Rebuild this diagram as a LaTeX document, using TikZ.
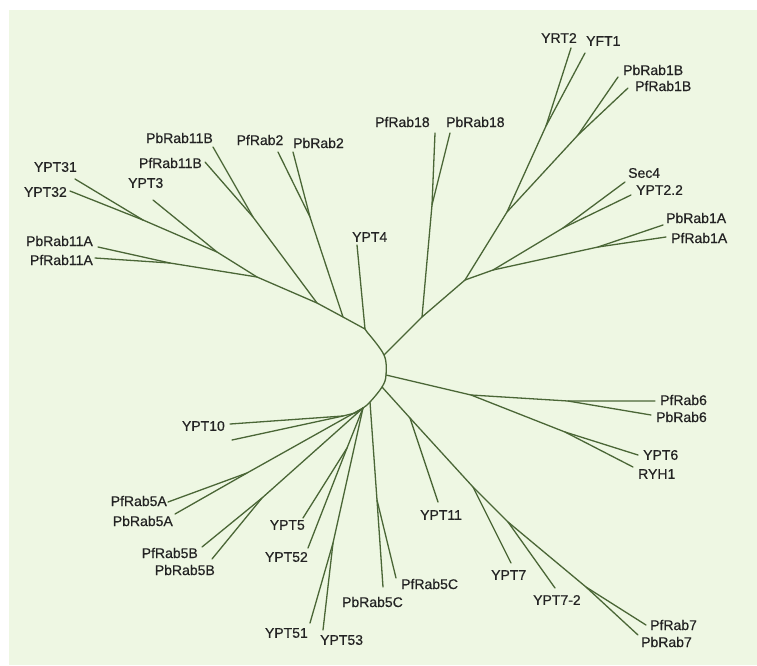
\documentclass[tikz,border=0pt]{standalone}
\usepackage{fontspec}
\setmainfont{Liberation Sans}
\newfontfamily\labfont{Liberation Sans}[FakeBold=0.5]
\definecolor{bgc}{RGB}{238,247,227}
\definecolor{brc}{RGB}{74,102,54}
\definecolor{txc}{RGB}{35,35,35}
\begin{document}
\begin{tikzpicture}[x=1pt,y=-1pt,
  br/.style={draw=brc,line width=1.3pt,line cap=round,line join=round},
  lab/.style={font=\labfont\fontsize{14}{14}\selectfont,text=txc,inner sep=0pt}]
\useasboundingbox (0,0) rectangle (757,665);
\fill[white] (0,0) rectangle (757,665);
\fill[bgc] (9,10) rectangle (757,665);

% root curve
\coordinate (c0) at (367,332);
\coordinate (c1) at (384,355);
\coordinate (c2) at (386,375);
\coordinate (c3) at (382,387);
\coordinate (c4) at (370,402);
\coordinate (c5) at (363,408);
\coordinate (c6) at (355,413);
\draw[br] plot[smooth,tension=0.6] coordinates {(c0) (c1) (c2) (c3) (c4) (c5) (c6)};

% ---- upper left group
\coordinate (nD) at (365,329);
\coordinate (nC) at (343,317);
\coordinate (nB) at (317,303);
\coordinate (nA) at (257,277);
\coordinate (n3) at (217,252);
\coordinate (n31) at (143,220);
\coordinate (n11A) at (170,263);
\coordinate (n11B) at (253,217);
\coordinate (n2) at (310,217);
\coordinate (eYPT31) at (75,179);
\coordinate (eYPT32) at (70,191);
\coordinate (eYPT3) at (153,200);
\coordinate (ePbRab11A) at (98,247);
\coordinate (ePfRab11A) at (95,258);
\coordinate (ePbRab11B) at (213,147);
\coordinate (ePfRab11B) at (205,162);
\coordinate (ePfRab2) at (278,152);
\coordinate (ePbRab2) at (293,152);
\coordinate (eYPT4) at (357,245);
\draw[br] (c0) -- (nD) -- (nC) -- (nB) -- (nA) -- (n3) -- (n31);
\draw[br] (n31) -- (eYPT31);
\draw[br] (n31) -- (eYPT32);
\draw[br] (n3) -- (eYPT3);
\draw[br] (nA) -- (n11A) -- (ePbRab11A);
\draw[br] (n11A) -- (ePfRab11A);
\draw[br] (nB) -- (n11B) -- (ePbRab11B);
\draw[br] (n11B) -- (ePfRab11B);
\draw[br] (nC) -- (n2) -- (ePfRab2);
\draw[br] (n2) -- (ePbRab2);
\draw[br] (nD) -- (eYPT4);

% ---- upper right group
\coordinate (nR1) at (422,317);
\coordinate (nR2) at (465,280);
\coordinate (n18) at (432,205);
\coordinate (nU) at (507,212);
\coordinate (nYR) at (546,126);
\coordinate (n1B) at (578,135);
\coordinate (nS) at (493,270);
\coordinate (nSec) at (563,228);
\coordinate (n1A) at (598,247);
\coordinate (ePfRab18) at (435,133);
\coordinate (ePbRab18) at (450,133);
\coordinate (eYRT2) at (571,48);
\coordinate (eYFT1) at (585,53);
\coordinate (ePbRab1B) at (618,77);
\coordinate (ePfRab1B) at (628,88);
\coordinate (eSec4) at (625,182);
\coordinate (eYPT22) at (631,195);
\coordinate (ePbRab1A) at (663,225);
\coordinate (ePfRab1A) at (666,237);
\draw[br] (c1) -- (nR1) -- (nR2) -- (nU) -- (nYR) -- (eYRT2);
\draw[br] (nYR) -- (eYFT1);
\draw[br] (nU) -- (n1B) -- (ePbRab1B);
\draw[br] (n1B) -- (ePfRab1B);
\draw[br] (nR1) -- (n18) -- (ePfRab18);
\draw[br] (n18) -- (ePbRab18);
\draw[br] (nR2) -- (nS) -- (nSec) -- (eSec4);
\draw[br] (nSec) -- (eYPT22);
\draw[br] (nS) -- (n1A) -- (ePbRab1A);
\draw[br] (n1A) -- (ePfRab1A);

% ---- right group (Rab6)
\coordinate (n6) at (471,395);
\coordinate (nRab6) at (568,401);
\coordinate (nY6) at (565,432);
\coordinate (ePfRab6) at (655,401);
\coordinate (ePbRab6) at (651,415);
\coordinate (eYPT6) at (638,455);
\coordinate (eRYH1) at (633,467);
\draw[br] (c2) -- (n6) -- (nRab6) -- (ePfRab6);
\draw[br] (nRab6) -- (ePbRab6);
\draw[br] (n6) -- (nY6) -- (eYPT6);
\draw[br] (nY6) -- (eRYH1);

% ---- lower right group (Rab7)
\coordinate (nY11) at (410,418);
\coordinate (nY7) at (473,487);
\coordinate (nY72) at (508,522);
\coordinate (n7) at (586,587);
\coordinate (eYPT11) at (438,502);
\coordinate (eYPT7) at (511,563);
\coordinate (eYPT72) at (555,588);
\coordinate (ePfRab7) at (646,625);
\coordinate (ePbRab7) at (638,635);
\draw[br] (c3) -- (nY11) -- (nY7) -- (nY72) -- (n7) -- (ePfRab7);
\draw[br] (n7) -- (ePbRab7);
\draw[br] (nY11) -- (eYPT11);
\draw[br] (nY7) -- (eYPT7);
\draw[br] (nY72) -- (eYPT72);

% ---- lower left group (Rab5, YPT10)
\coordinate (n5C) at (377,500);
\coordinate (n5A) at (247,473);
\coordinate (n5B) at (262,498);
\coordinate (n5) at (347,448);
\coordinate (n51) at (333,543);
\coordinate (n10) at (343,416);
\coordinate (ePbRab5C) at (383,587);
\coordinate (ePfRab5C) at (396,578);
\coordinate (ePfRab5A) at (168,502);
\coordinate (ePbRab5A) at (175,514);
\coordinate (ePfRab5B) at (202,547);
\coordinate (ePbRab5B) at (212,559);
\coordinate (eYPT5) at (303,518);
\coordinate (eYPT52) at (308,548);
\coordinate (eYPT51) at (310,623);
\coordinate (eYPT53) at (323,630);
\coordinate (eYPT10) at (230,424);
\coordinate (eX10) at (232,440);
\draw[br] (c4) -- (n5C) -- (ePbRab5C);
\draw[br] (n5C) -- (ePfRab5C);
\draw[br] (c5) -- (n5A) -- (ePfRab5A);
\draw[br] (n5A) -- (ePbRab5A);
\draw[br] (c5) -- (n5B) -- (ePfRab5B);
\draw[br] (n5B) -- (ePbRab5B);
\draw[br] (c5) -- (n5) -- (eYPT5);
\draw[br] (n5) -- (eYPT52);
\draw[br] (c5) -- (n51) -- (eYPT51);
\draw[br] (n51) -- (eYPT53);
\draw[br] (c6) -- (n10) -- (eYPT10);
\draw[br] (n10) -- (eX10);

% ---- labels
\node[lab,anchor=east] (lPbRab11B) at (213,138) {PbRab11B};
\node[lab,anchor=east] (lPfRab11B) at (202,163) {PfRab11B};
\node[lab,anchor=west] (lYPT3) at (128,183) {YPT3};
\node[lab,anchor=east] (lYPT31) at (77,167) {YPT31};
\node[lab,anchor=east] (lYPT32) at (67,192) {YPT32};
\node[lab,anchor=east] (lPbRab11A) at (93,241) {PbRab11A};
\node[lab,anchor=east] (lPfRab11A) at (93,260) {PfRab11A};
\node[lab] (lPfRab2) at (260,140) {PfRab2};
\node[lab,anchor=west] (lPbRab2) at (293,143) {PbRab2};
\node[lab,anchor=west] (lYPT4) at (352,237) {YPT4};
\node[lab,anchor=west] (lPfRab18) at (375,122) {PfRab18};
\node[lab,anchor=west] (lPbRab18) at (446,122) {PbRab18};
\node[lab,anchor=west] (lYRT2) at (541,38) {YRT2};
\node[lab,anchor=west] (lYFT1) at (586,41) {YFT1};
\node[lab,anchor=west] (lPbRab1B) at (623,70) {PbRab1B};
\node[lab,anchor=west] (lPfRab1B) at (635,86) {PfRab1B};
\node[lab,anchor=west] (lSec4) at (628,173) {Sec4};
\node[lab,anchor=west] (lYPT22) at (636,190) {YPT2.2};
\node[lab,anchor=west] (lPbRab1A) at (666,218) {PbRab1A};
\node[lab,anchor=west] (lPfRab1A) at (671,238) {PfRab1A};
\node[lab,anchor=west] (lPfRab6) at (660,400) {PfRab6};
\node[lab,anchor=west] (lPbRab6) at (656,417) {PbRab6};
\node[lab,anchor=west] (lYPT6) at (643,455) {YPT6};
\node[lab,anchor=west] (lRYH1) at (638,474) {RYH1};
\node[lab,anchor=west] (lYPT11) at (420,515) {YPT11};
\node[lab,anchor=west] (lYPT7) at (491,575) {YPT7};
\node[lab,anchor=west] (lYPT72) at (533,600) {YPT7-2};
\node[lab,anchor=west] (lPfRab7) at (650,625) {PfRab7};
\node[lab,anchor=west] (lPbRab7) at (641,642) {PbRab7};
\node[lab,anchor=west] (lPfRab5C) at (401,584) {PfRab5C};
\node[lab,anchor=east] (lPbRab5C) at (403,602) {PbRab5C};
\node[lab,anchor=east] (lYPT51) at (308,633) {YPT51};
\node[lab,anchor=west] (lYPT53) at (320,640) {YPT53};
\node[lab,anchor=east] (lYPT52) at (308,557) {YPT52};
\node[lab,anchor=east] (lYPT5) at (305,525) {YPT5};
\node[lab,anchor=east] (lPfRab5B) at (198,553) {PfRab5B};
\node[lab,anchor=east] (lPbRab5B) at (215,570) {PbRab5B};
\node[lab,anchor=east] (lPfRab5A) at (167,501) {PfRab5A};
\node[lab,anchor=east] (lPbRab5A) at (173,521) {PbRab5A};
\node[lab,anchor=east] (lYPT10) at (225,426) {YPT10};
\end{tikzpicture}
\end{document}
